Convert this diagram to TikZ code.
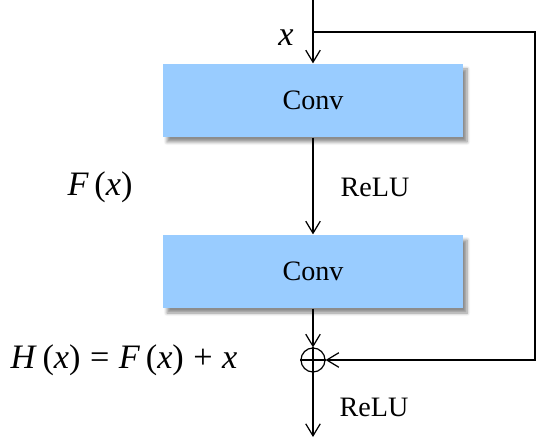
\documentclass[tikz,border=0pt]{standalone}
\usepackage{fontspec}
\setmainfont{Liberation Serif}
\usetikzlibrary{arrows.meta,shadows.blur}
\definecolor{convblue}{RGB}{153,204,255}
\newcommand{\vx}{\textit{x}}
\begin{document}
\begin{tikzpicture}[
  layer/.style={fill=convblue,minimum width=6cm,minimum height=1.46cm,
    blur shadow={shadow xshift=0.08cm,shadow yshift=-0.1cm,shadow blur steps=6,shadow opacity=45},
    font=\fontsize{16}{19}\selectfont},
  lbl/.style={font=\fontsize{16}{19}\selectfont},
  eq/.style={font=\fontsize{19.5}{23}\selectfont},
  >={Straight Barb[length=2.4mm,width=2.9mm]},
  line width=0.7pt]
\useasboundingbox (0,0) rectangle (11,8.88);

\node[layer] (conv1) at (6.26,6.87) {Conv};
\node[layer] (conv2) at (6.26,3.45) {Conv};
\node[draw,circle,minimum size=0.48cm,inner sep=0pt] (add) at (6.26,1.68) {};
\draw (add.north)--(add.south) (add.west)--(add.east);

\coordinate (in) at (6.26,8.88);
\coordinate (split) at (6.26,8.24);
\coordinate (skip) at (10.7,8.24);
\coordinate (out) at (6.26,0.14);

\node[eq] (xin) at (5.72,8.12) {\vx};
\node[lbl] (relu1) at (7.5,5.14) {ReLU};
\node[lbl] (relu2) at (7.48,0.74) {ReLU};
\node[eq] (fx) at (2.0,5.14) {\textit{F}\,(\vx)};
\node[eq] (hx) at (2.48,1.68) {\textit{H}\,(\vx)\;=\;\textit{F}\,(\vx)\;+\;\vx};

\draw[->] (in)--(conv1);
\draw[->] (conv1)--(conv2);
\draw[->] (conv2)--(add);
\draw[->] (add)--(out);
\draw[->] (split)--(skip)|-(add);
\end{tikzpicture}
\end{document}
